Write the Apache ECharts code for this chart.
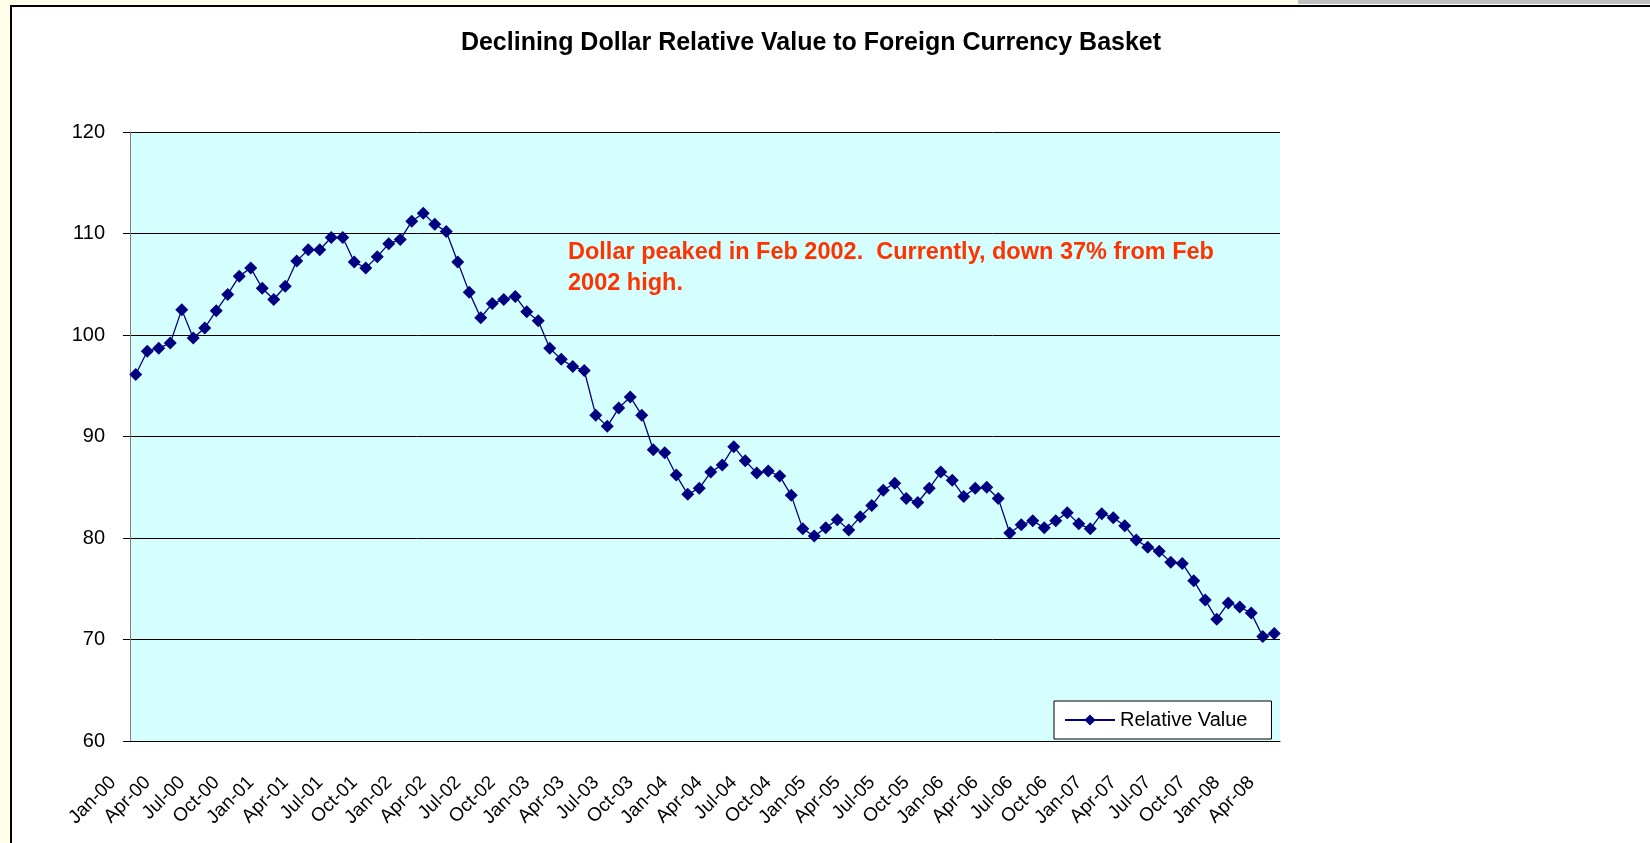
<!DOCTYPE html>
<html>
<head>
<meta charset="utf-8">
<title>Declining Dollar Relative Value to Foreign Currency Basket</title>
<script src="https://cdn.jsdelivr.net/npm/echarts@6/dist/echarts.min.js"></script>
<style>
    html, body { margin: 0; padding: 0; width: 1650px; height: 843px; overflow: hidden; background: #FFFEE9; }
    .band { position: absolute; left: 1298px; top: 0; width: 352px; height: 4px; background: #C0C0C0; }
    .frame { position: absolute; left: 10px; top: 5px; width: 1700px; height: 900px; background: #fff;
             border-left: 2px solid #000; border-top: 2px solid #000; }
    .chart { position: absolute; left: 0; top: 0; width: 1650px; height: 843px; }
</style>
</head>
<body>
<div class="band"></div>
<div class="frame"></div>
<div class="chart"></div>
<script>
// months Jan-00 .. Apr-08
var monthNames = ['Jan', 'Feb', 'Mar', 'Apr', 'May', 'Jun', 'Jul', 'Aug', 'Sep', 'Oct', 'Nov', 'Dec'];
var years = ['00', '01', '02', '03', '04', '05', '06', '07', '08'];
var months = [];
years.forEach(function (y) {
    monthNames.forEach(function (m) {
        if (months.length < 100) months.push(m + '-' + y);
    });
});

var relativeValue = [
    96.1, 98.4, 98.7, 99.2, 102.5, 99.7, 100.7, 102.4, 104.0, 105.8, 106.6, 104.6,
    103.5, 104.8, 107.3, 108.4, 108.4, 109.6, 109.6, 107.2, 106.6, 107.7, 109.0, 109.4,
    111.2, 112.0, 110.9, 110.2, 107.2, 104.2, 101.7, 103.1, 103.5, 103.8, 102.3, 101.4,
    98.7, 97.6, 96.9, 96.5, 92.1, 91.0, 92.8, 93.9, 92.1, 88.7, 88.4, 86.2,
    84.3, 84.9, 86.5, 87.2, 89.0, 87.6, 86.4, 86.6, 86.1, 84.2, 80.9, 80.2,
    81.0, 81.8, 80.8, 82.1, 83.2, 84.7, 85.4, 83.9, 83.5, 84.9, 86.5, 85.7,
    84.1, 84.9, 85.0, 83.9, 80.5, 81.3, 81.7, 81.0, 81.7, 82.5, 81.4, 80.9,
    82.4, 82.0, 81.2, 79.8, 79.1, 78.7, 77.6, 77.5, 75.8, 73.9, 72.0, 73.6,
    73.2, 72.6, 70.3, 70.6
];

var titleText = 'Declining Dollar Relative Value to Foreign Currency Basket';
var noteText = 'Dollar peaked in Feb 2002.  Currently, down 37% from Feb\n2002 high.';

var chart = echarts.init(document.querySelector('.chart'));
var option = {
    textStyle: { fontFamily: 'Arial, "Liberation Sans", sans-serif' },
    animation: false,
    grid: {
        left: 130, top: 132, width: 1150, height: 609,
        show: true, backgroundColor: '#D5FFFF', borderWidth: 0
    },
    graphic: [{
        type: 'text',
        x: 811, y: 31,
        style: {
            text: titleText,
            font: 'bold 25px Arial, "Liberation Sans", sans-serif',
            fill: '#000', align: 'center'
        }
    }, {
        type: 'text',
        x: 568, y: 237,
        style: {
            text: noteText,
            font: 'bold 23.5px Arial, "Liberation Sans", sans-serif',
            lineHeight: 31,
            fill: '#FF3300'
        }
    }],
    legend: {
        left: 1054, top: 701,
        data: ['Relative Value'],
        backgroundColor: '#fff',
        borderColor: '#000',
        borderWidth: 1,
        padding: [9, 24, 9, 10],
        itemWidth: 50,
        itemHeight: 14,
        textStyle: { fontSize: 20, color: '#000' }
    },
    xAxis: {
        type: 'category',
        data: months,
        boundaryGap: true,
        axisLine: { lineStyle: { color: '#000' } },
        axisTick: { interval: 2, length: 7, lineStyle: { color: '#000' } },
        axisLabel: { interval: 2, rotate: 45, fontSize: 19, color: '#000', margin: 16, padding: [0, 32, 0, 0] }
    },
    yAxis: {
        type: 'value',
        min: 60, max: 120, interval: 10,
        axisLine: { show: true, lineStyle: { color: '#808080' } },
        axisTick: { show: true, length: 7, lineStyle: { color: '#000' } },
        axisLabel: { fontSize: 20, color: '#000', margin: 25, padding: [0, 0, 8, 0] },
        splitLine: { lineStyle: { color: '#000', width: 1 } }
    },
    series: [{
        name: 'Relative Value',
        type: 'line',
        data: relativeValue,
        symbol: 'diamond',
        symbolSize: 13,
        showAllSymbol: true,
        color: '#000080',
        lineStyle: { width: 1.3, color: '#000080' },
        itemStyle: { color: '#000080' }
    }]
};
chart.setOption(option);
</script>
</body>
</html>
